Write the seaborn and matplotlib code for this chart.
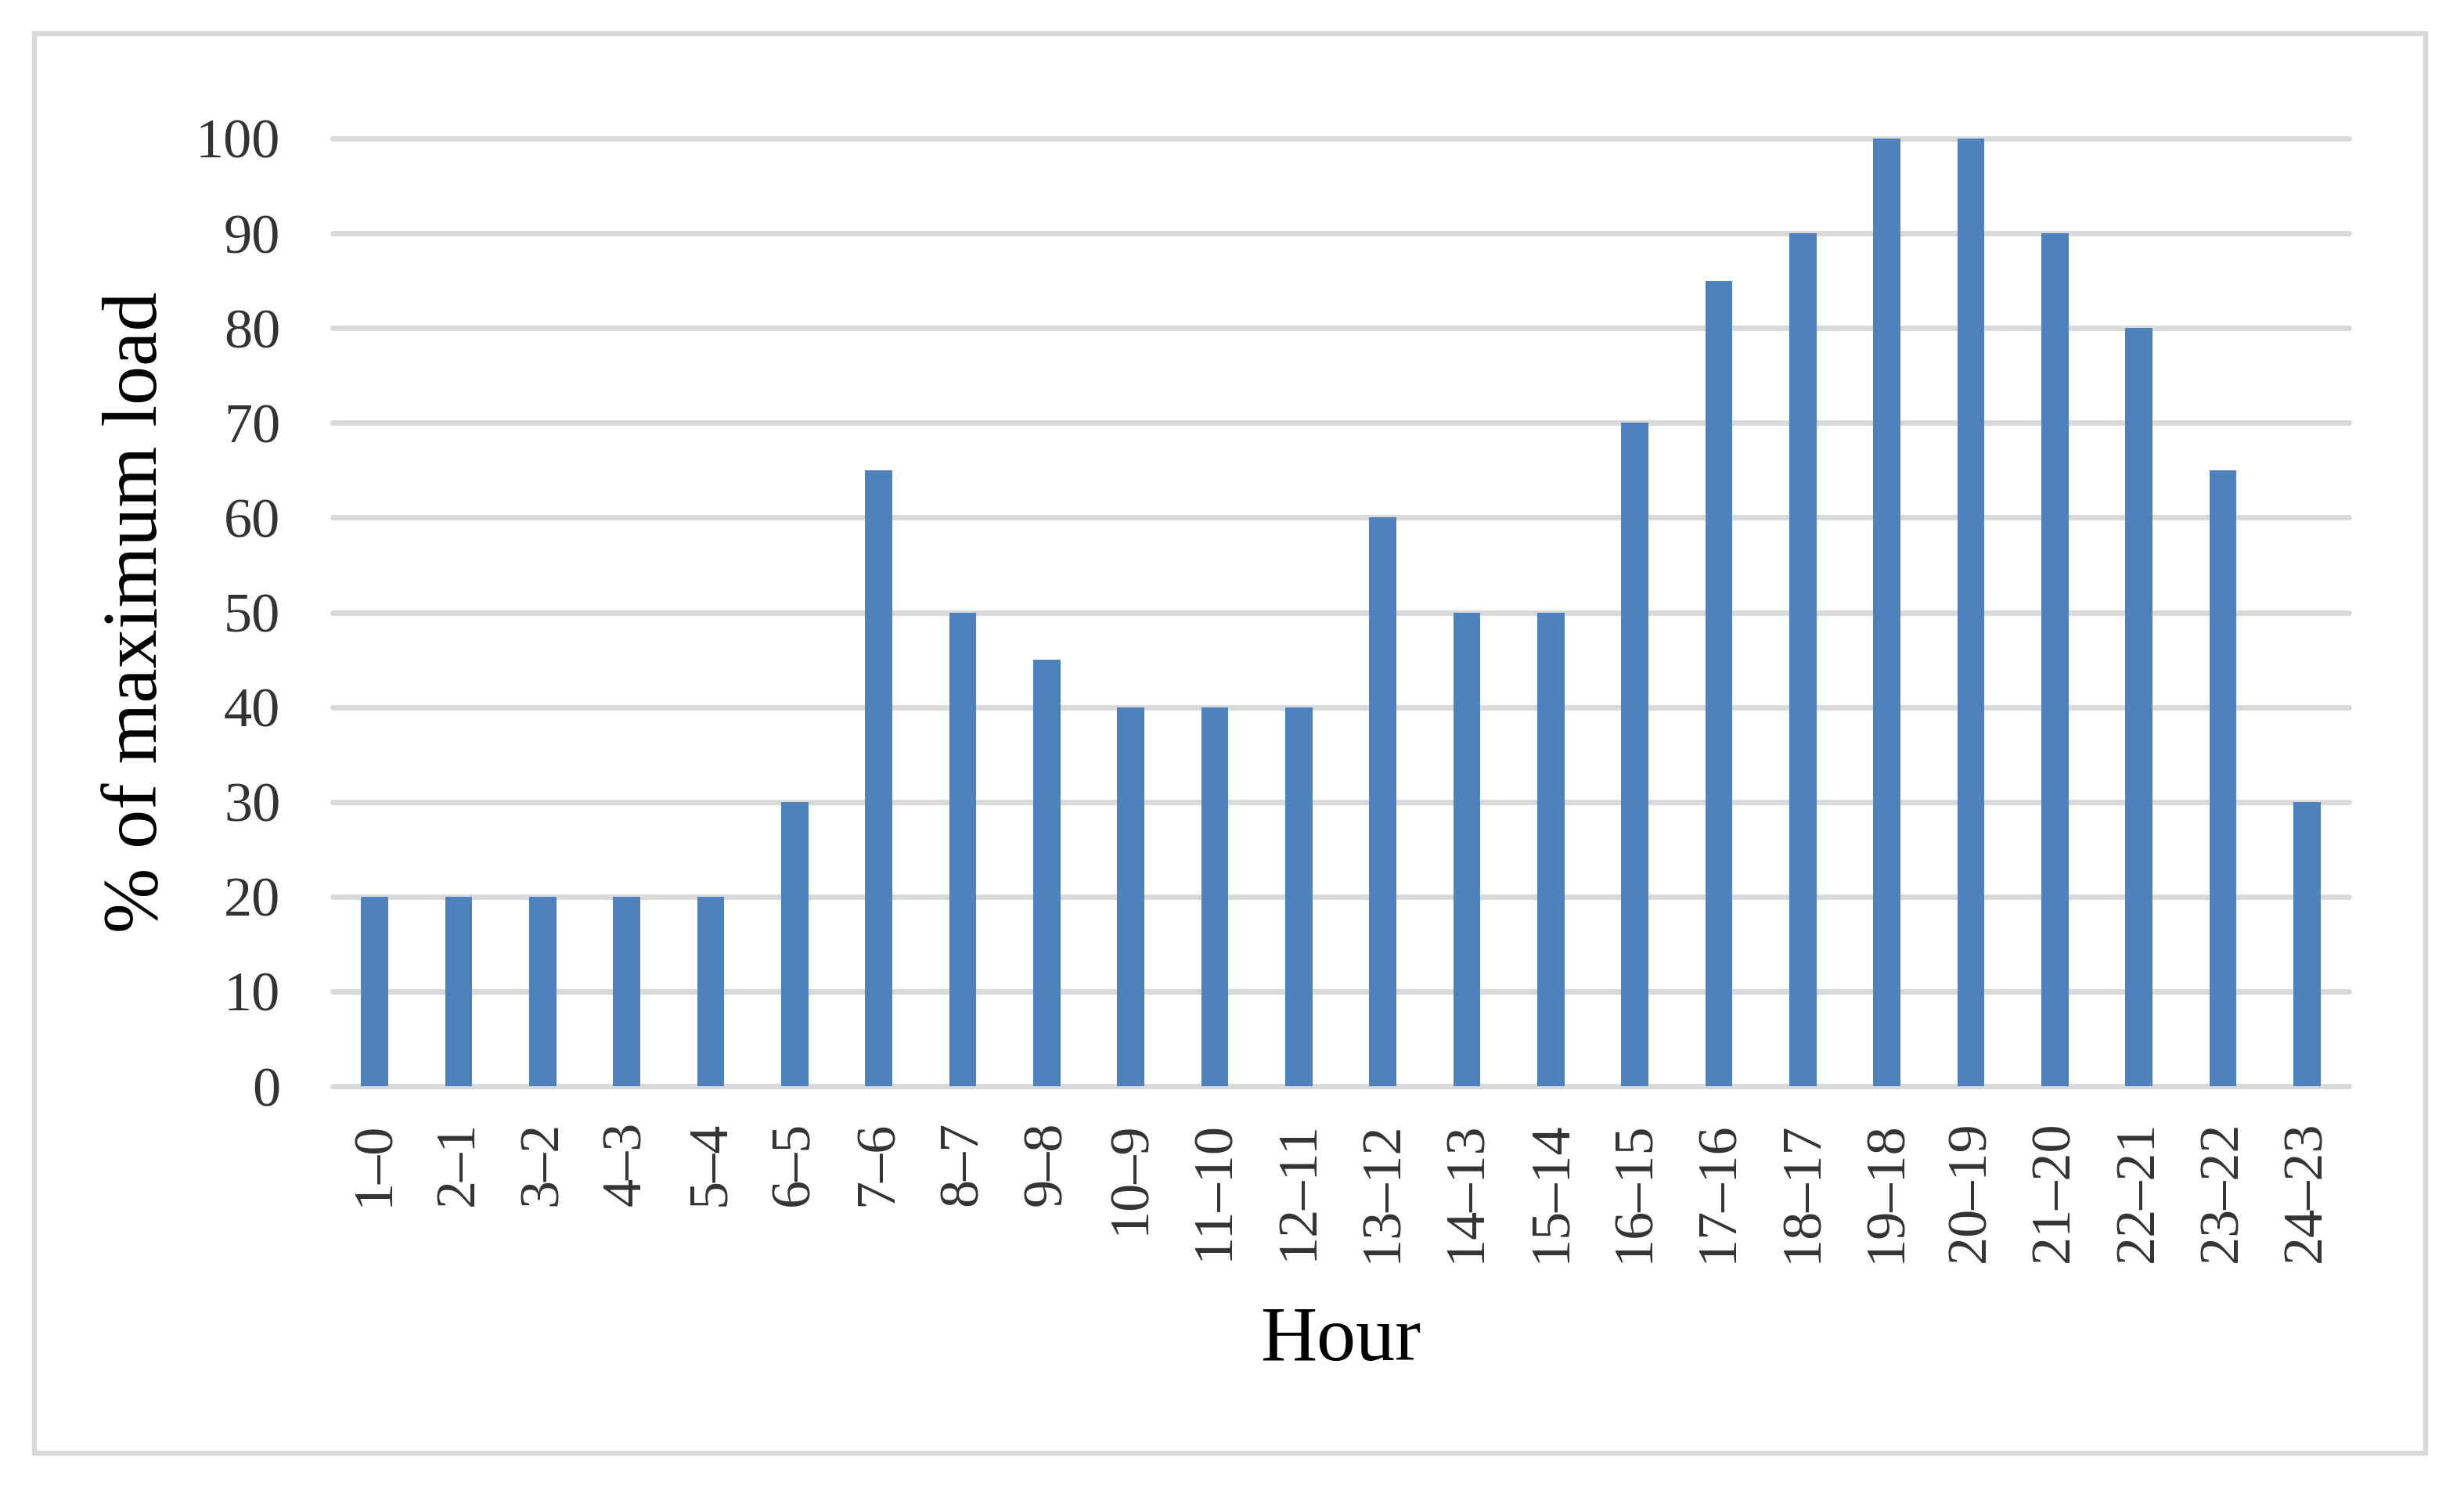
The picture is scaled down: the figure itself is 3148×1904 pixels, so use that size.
import matplotlib
matplotlib.use("Agg")
import matplotlib.pyplot as plt
import seaborn as sns
import pandas as pd
from matplotlib.patches import Rectangle

# ---- data ----
hours = ["1–0", "2–1", "3–2", "4–3", "5–4", "6–5", "7–6", "8–7", "9–8", "10–9",
         "11–10", "12–11", "13–12", "14–13", "15–14", "16–15", "17–16", "18–17",
         "19–18", "20–19", "21–20", "22–21", "23–22", "24–23"]
load = [20, 20, 20, 20, 20, 30, 65, 50, 45, 40, 40, 40,
        60, 50, 50, 70, 85, 90, 100, 100, 90, 80, 65, 30]
y_ticks = [0, 10, 20, 30, 40, 50, 60, 70, 80, 90, 100]
x_title = "Hour"
y_title = "% of maximum load"

df = pd.DataFrame({"Hour": hours, "Load": load})

sns.set_theme(style="white")
plt.rcParams["font.family"] = ["Liberation Serif", "DejaVu Serif"]

W, H, DPI = 3148, 1904, 200
fig = plt.figure(figsize=(W / DPI, H / DPI), dpi=DPI)
fig.patch.set_facecolor("white")

left, right, top, bottom = 425, 3001, 177, 1388
ax = fig.add_axes([left / W, 1 - bottom / H, (right - left) / W, (bottom - top) / H])

sns.barplot(data=df, x="Hour", y="Load", color="#4F81BD", saturation=1,
            width=0.32, linewidth=0, ax=ax, zorder=3)

ax.set_xlim(-0.5, len(hours) - 0.5)
ax.set_ylim(0, 100)
ax.set_yticks(y_ticks)
ax.yaxis.grid(True, color="#D9D9D9", linewidth=2.5, zorder=0)
ax.xaxis.grid(False)
for ln in ax.get_ygridlines():
    ln.set_clip_on(False)
ax.set_axisbelow(True)
for s in ax.spines.values():
    s.set_visible(False)

ax.tick_params(axis="both", length=0, labelsize=26, colors="#333333")
ax.tick_params(axis="y", pad=24)
ax.tick_params(axis="x", pad=16)
plt.setp(ax.get_xticklabels(), rotation=90)

ax.set_xlabel(x_title, fontsize=36, color="black", va="baseline")
ax.set_ylabel(y_title, fontsize=36, color="black", va="baseline")
ax.xaxis.set_label_coords(0.5, (bottom - 1738) / (bottom - top))
ax.yaxis.set_label_coords((200 - left) / (right - left), 0.5)

# outer chart border
fig.patches.append(Rectangle((43.5 / W, 1 - 1856.5 / H), (3098.5 - 43.5) / W,
                             (1856.5 - 43) / H, transform=fig.transFigure,
                             fill=False, edgecolor="#D9D9D9", linewidth=2.3))

fig.savefig("out.png", dpi=DPI)
